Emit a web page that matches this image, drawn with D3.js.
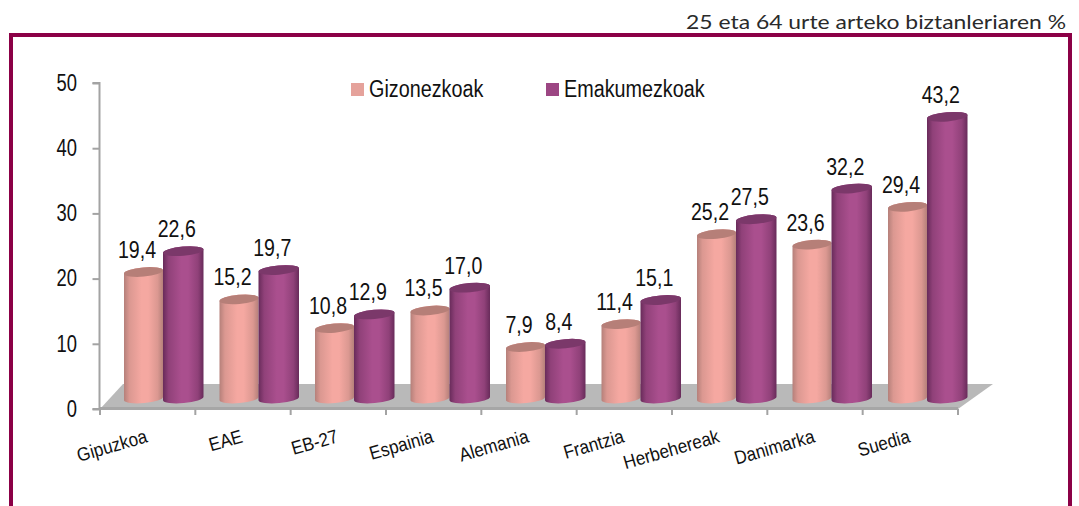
<!DOCTYPE html>
<html><head><meta charset="utf-8">
<script src="https://cdn.jsdelivr.net/npm/d3@7"></script>
<style>html,body{margin:0;padding:0;background:#fff;overflow:hidden}svg{display:block}</style>
</head><body><svg id="c" width="1079" height="506"></svg>
<script>
const categories=["Gipuzkoa","EAE","EB-27","Espainia","Alemania","Frantzia","Herbehereak","Danimarka","Suedia"];
const men=[19.4,15.2,10.8,13.5,7.9,11.4,25.2,23.6,29.4];
const women=[22.6,19.7,12.9,17.0,8.4,15.1,27.5,32.2,43.2];
const seriesNames=["Gizonezkoak","Emakumezkoak"];
const yTicks=[0,10,20,30,40,50];
const unitLabel="25 eta 64 urte arteko biztanleriaren %";

const svg=d3.select("#c");
const sans="'Liberation Sans',Arial,sans-serif";
const y=d3.scaleLinear().domain([0,50]).range([409,83]);
const x=d3.scaleBand().domain(categories).range([100,958]);
const xBar=d3.scaleBand().domain(categories).range([124,983.5]);
const depthX=24, depthY=10.5;
const pal=[{id:"gP",edge:"#b5807a",mid:"#f5a8a1",top:"#b67f78",sw:"#e5a29b"},
           {id:"gV",edge:"#682b5a",mid:"#aa4f8e",top:"#7b386a",sw:"#9c4683"}];
const defs=svg.append("defs");
pal.forEach(p=>{
  const g=defs.append("linearGradient").attr("id",p.id).attr("x1",0).attr("x2",1).attr("y1",0).attr("y2",0);
  [[0,p.edge],[.14,d3.interpolateRgb(p.edge,p.mid)(.6)],[.45,p.mid],[.62,p.mid],[.86,d3.interpolateRgb(p.edge,p.mid)(.6)],[1,p.edge]]
    .forEach(s=>g.append("stop").attr("offset",s[0]).attr("stop-color",s[1]));
});

// frame
svg.append("rect").attr("x",11).attr("y",35).attr("width",1059).attr("height",520)
  .attr("fill","none").attr("stroke","#8b0046").attr("stroke-width",4);
svg.append("text").attr("x",1066).attr("y",29).attr("text-anchor","end")
  .attr("textLength",380).attr("lengthAdjust","spacingAndGlyphs")
  .attr("font-family","Lato,sans-serif").attr("font-weight",400).attr("font-size",20).attr("fill","#2a2a2a").text(unitLabel);

// floor
const x0=x.range()[0],x1=x.range()[1];
svg.append("path").attr("d",d3.line()([[x0,y(0)],[x0+depthX-1,y(0)-25],[x1+35,y(0)-25],[x1,y(0)]])+"Z").attr("fill","#b9b9b9");
svg.append("path").attr("d",d3.line()([[x0,y(0)-2],[x1,y(0)-2],[x1,y(0)+1],[x0,y(0)+1]])+"Z").attr("fill","#a6a6a6");

// y axis
const ya=svg.append("g").attr("transform","translate(99.5,0)").call(d3.axisLeft(y).tickValues(yTicks).tickSize(7));
ya.selectAll("path,line").attr("stroke","#a3a3a3").attr("stroke-width",2);
ya.select("path").attr("d",`M-7,${y(50)}H0V${y(0)}H-7`);
ya.selectAll("text").attr("font-family",sans).attr("font-size",23).attr("fill","#111")
  .attr("x",null).attr("transform","translate(-22.5,0) scale(.8,1)");

// x axis ticks
const bounds=categories.map(c=>x(c)).concat([x1]);
svg.append("g").selectAll("line").data(bounds).join("line")
  .attr("x1",d=>d).attr("x2",d=>d).attr("y1",y(0)).attr("y2",y(0)+6)
  .attr("stroke","#a3a3a3").attr("stroke-width",2);

// bars
const tilt=1.8, ry=4.6, ang=-5;
function cyl(l,r,v){
  const top=y(v)-depthY, bot=y(0)-depthY, rx=(r-l)/2;
  return `M${l},${top+tilt}L${l},${bot+tilt}A${rx},${ry} ${ang} 0 0 ${r},${bot-tilt}L${r},${top-tilt}A${rx},${ry} ${ang} 0 0 ${l},${top+tilt}Z`;
}
const barSpec=[{vals:men,off:0,w:39,p:pal[0]},{vals:women,off:39,w:40.5,p:pal[1]}];
barSpec.forEach(s=>{
  const g=svg.append("g");
  const d=s.vals.map((v,i)=>({v,c:categories[i]}));
  g.selectAll("path").data(d).join("path")
    .attr("d",e=>cyl(xBar(e.c)+s.off,xBar(e.c)+s.off+s.w,e.v)).attr("fill",`url(#${s.p.id})`);
  g.selectAll("ellipse").data(d).join("ellipse")
    .attr("rx",s.w/2).attr("ry",ry)
    .attr("transform",e=>`translate(${xBar(e.c)+s.off+s.w/2},${y(e.v)-depthY}) rotate(${ang})`)
    .attr("fill",s.p.top);
});
barSpec.forEach(s=>{
  svg.append("g").selectAll("text").data(s.vals.map((v,i)=>({v,c:categories[i]}))).join("text")
    .attr("transform",e=>`translate(${xBar(e.c)+s.off+s.w/2-6.5},${y(e.v)-depthY-14}) scale(.85,1)`)
    .attr("text-anchor","middle").attr("font-family",sans).attr("font-size",23).attr("fill","#111")
    .text(e=>d3.format(".1f")(e.v).replace(".",","));
});

// category labels
svg.append("g").selectAll("text").data(categories).join("text")
  .attr("transform",c=>`translate(${x(c)+48.5},${442}) rotate(-16) scale(.9,1)`)
  .attr("text-anchor","end").attr("font-family",sans).attr("font-size",19).attr("fill","#111").text(c=>c);

// legend
const legX=[351,546];
const lg=svg.append("g").selectAll("g").data(seriesNames).join("g").attr("transform",(d,i)=>`translate(${legX[i]},83)`);
lg.append("rect").attr("width",13).attr("height",13).attr("fill",(d,i)=>pal[i].sw);
lg.append("text").attr("transform","translate(18,14) scale(.86,1)").attr("font-family",sans).attr("font-size",23).attr("fill","#111").text(d=>d);
</script></body></html>
